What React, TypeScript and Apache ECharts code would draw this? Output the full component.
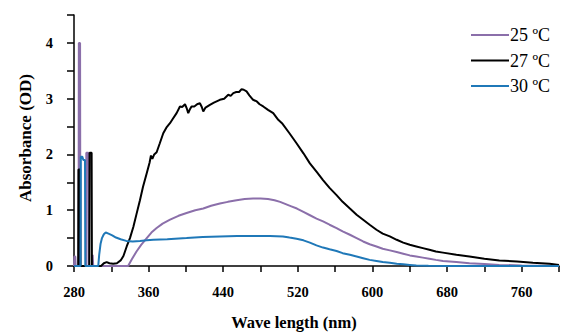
import React, { useEffect, useRef } from "react";
import * as echarts from "echarts";

const seriesNames = ["25 ºC", "27 ºC", "30 ºC"];
const seriesColors = ["#8B6FAA", "#000000", "#1F78B8"];

const xTickLabels = [280, 360, 440, 520, 600, 680, 760];
const yTickLabels = [0, 1, 2, 3, 4];

const data25: number[][] = [
  [280, 0], [280.4, 0.17], [281.4, 0.17], [281.8, 0], [284.9, 0], [285.2, 4.0], [286.5, 4.0], [286.8, 0],
  [292.9, 0], [293.2, 2.03], [295.3, 2.03], [295.6, 0], [299.6, 0], [300, 0.2], [300.6, 0],
  [338, 0], [342, 0.12], [347, 0.26], [352, 0.38], [358, 0.5], [363, 0.6], [368.6, 0.68], [375, 0.76],
  [383, 0.83], [392, 0.9], [400.7, 0.95], [410, 1.0], [418.6, 1.03], [427, 1.08], [436.4, 1.12],
  [445, 1.15], [454.3, 1.18], [463, 1.2], [472, 1.21], [480, 1.21], [488, 1.2], [495, 1.18], [501, 1.15],
  [507, 1.11], [513, 1.07], [519, 1.03], [526, 0.97], [533, 0.91], [540, 0.85], [547, 0.8], [554, 0.74],
  [561.5, 0.68], [568, 0.62], [575.8, 0.56], [583, 0.5], [590, 0.44], [597, 0.39], [604.3, 0.35],
  [611, 0.31], [618.6, 0.28], [626, 0.25], [633, 0.22], [640, 0.19], [647, 0.17], [654, 0.15],
  [661, 0.13], [668, 0.11], [675.6, 0.09], [690, 0.07], [704, 0.05], [720, 0.035], [736, 0.02],
  [760, 0.01], [800, 0.005],
];

const data27: number[][] = [
  [280, 0], [284.5, 0], [284.8, 1.73], [286.6, 1.73], [286.9, 0], [296.4, 0], [296.7, 2.03], [298.9, 2.03],
  [299.2, 0], [309, 0], [312, 0.05], [315, 0.07], [318, 0.05], [322, 0.04], [326, 0.05], [330, 0.1],
  [333, 0.18], [336.5, 0.35], [340, 0.5], [343.6, 0.7], [347, 0.93], [350.7, 1.18], [354, 1.42],
  [357.9, 1.66], [361, 1.85], [362.5, 1.98], [364, 1.92], [366, 2.0], [368.6, 2.04], [372, 2.2],
  [375.7, 2.38], [379, 2.48], [382.9, 2.56], [386, 2.64], [390, 2.74], [393.6, 2.86], [396, 2.85],
  [399, 2.9], [401, 2.82], [402.5, 2.74], [404, 2.8], [406, 2.86], [409, 2.86], [412, 2.9], [415, 2.92],
  [417, 2.85], [418.6, 2.77], [421, 2.84], [425.7, 2.89], [430, 2.93], [436.4, 2.98], [441, 3.0],
  [445.4, 3.07], [448, 3.05], [450.8, 3.1], [454, 3.12], [457, 3.12], [459.7, 3.17], [462, 3.16],
  [465, 3.13], [468, 3.06], [472, 2.98], [476, 2.95], [479, 2.9], [482.9, 2.86], [488, 2.8],
  [493.6, 2.74], [499, 2.62], [503, 2.56], [511, 2.38], [518.6, 2.2], [526, 2.02], [532.9, 1.84],
  [540, 1.69], [547, 1.54], [554, 1.4], [561.5, 1.27], [568, 1.15], [575.8, 1.03], [583, 0.92],
  [590, 0.83], [597, 0.74], [604.3, 0.65], [611, 0.58], [618.6, 0.53], [626, 0.47], [633, 0.42],
  [640, 0.38], [647, 0.35], [654, 0.32], [661, 0.29], [668, 0.26], [675.6, 0.24], [690, 0.2],
  [704, 0.17], [720, 0.13], [736, 0.1], [755, 0.08], [772, 0.06], [790, 0.04], [800, 0.02],
];

const data30: number[][] = [
  [280, 0], [287, 0], [287.3, 1.96], [289, 1.96], [290, 1.9], [291.8, 1.9], [292.1, 0], [306, 0],
  [307, 0.2], [308.5, 0.4], [310, 0.5], [312, 0.57], [314, 0.6], [317, 0.58], [321, 0.55], [325, 0.51],
  [330, 0.48], [336, 0.45], [343, 0.44], [350.7, 0.45], [358, 0.46], [365, 0.47], [380, 0.48],
  [400.7, 0.5], [418, 0.52], [436.4, 0.53], [455, 0.54], [472, 0.54], [490, 0.54], [504, 0.53],
  [511, 0.51], [518.6, 0.49], [526, 0.46], [532.9, 0.42], [540, 0.37], [547, 0.33], [554, 0.3],
  [561.5, 0.27], [568, 0.23], [575.8, 0.2], [583, 0.17], [590, 0.14], [597, 0.11], [604.3, 0.09],
  [611, 0.07], [618.6, 0.06], [626, 0.04], [633, 0.03], [640, 0.02], [647, 0.01], [660, 0.003],
  [680, 0], [800, 0],
];

const allData = [data25, data27, data30];

export default function App() {
  const ref = useRef<HTMLDivElement>(null);
  useEffect(() => {
    if (!ref.current) return;
    const chart = echarts.init(ref.current, undefined, { renderer: "svg" });
    const serif = "Liberation Serif";
    const axisLineStyle = { color: "#000", width: 1.5 };
    chart.setOption({
      animation: false,
      backgroundColor: "#fff",
      textStyle: { fontFamily: serif },
      grid: { left: 74, top: 15, right: 3, bottom: 66, containLabel: false },
      legend: {
        orient: "vertical",
        left: 466,
        top: 19,
        icon: "rect",
        itemWidth: 38,
        itemHeight: 2,
        itemGap: 3.5,
        textStyle: { fontFamily: serif, fontSize: 18, color: "#000", lineHeight: 22, padding: [0, 0, 0, -4] },
        data: seriesNames,
      },
      xAxis: {
        type: "value",
        min: 280,
        max: 800,
        interval: 40,
        axisLine: { show: true, onZero: false, lineStyle: axisLineStyle },
        axisTick: { show: true, length: 6, lineStyle: axisLineStyle },
        splitLine: { show: false },
        axisLabel: {
          margin: 18,
          fontFamily: serif,
          fontWeight: "bold",
          fontSize: 14.5,
          color: "#000",
          formatter: (v: number) => (xTickLabels.indexOf(v) >= 0 ? String(v) : ""),
        },
      },
      yAxis: {
        type: "value",
        min: 0,
        max: 4.5,
        interval: 0.5,
        axisLine: { show: true, lineStyle: axisLineStyle },
        axisTick: { show: true, length: 7, lineStyle: axisLineStyle },
        splitLine: { show: false },
        axisLabel: {
          margin: 21,
          fontFamily: serif,
          fontWeight: "bold",
          fontSize: 14.5,
          color: "#000",
          formatter: (v: number) => (yTickLabels.indexOf(v) >= 0 ? String(v) : ""),
        },
      },
      graphic: [
        {
          type: "text",
          x: 294,
          y: 322,
          style: {
            text: "Wave length (nm)",
            fontFamily: serif,
            fontWeight: "bold",
            fontSize: 16.5,
            fill: "#000",
            textAlign: "center",
            textVerticalAlign: "middle",
          },
        },
        {
          type: "text",
          x: 25,
          y: 138,
          rotation: Math.PI / 2,
          style: {
            text: "Absorbance (OD)",
            fontFamily: serif,
            fontWeight: "bold",
            fontSize: 17,
            fill: "#000",
            textAlign: "center",
            textVerticalAlign: "middle",
          },
        },
      ],
      series: seriesNames.map((name, i) => ({
        name,
        type: "line",
        data: allData[i],
        symbol: "none",
        showSymbol: false,
        smooth: false,
        lineStyle: { color: seriesColors[i], width: 2 },
        itemStyle: { color: seriesColors[i] },
        z: 2 + i,
      })),
    });
    return () => chart.dispose();
  }, []);
  return <div ref={ref} style={{ position: "fixed", left: 0, top: 0, width: 562, height: 332 }} />;
}
